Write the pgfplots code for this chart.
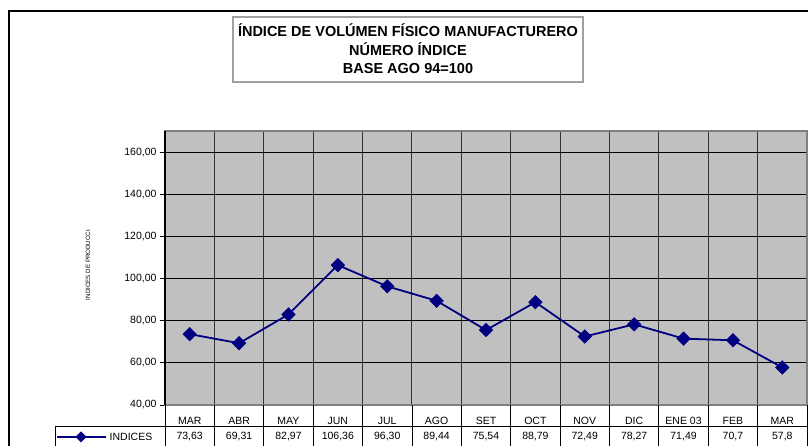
\documentclass[border=0pt]{standalone}
\usepackage{pgfplots}
\pgfplotsset{compat=1.18}
\usepackage{fontspec}
\setmainfont{Liberation Sans}
\definecolor{navyc}{RGB}{0,0,128}
\definecolor{plotbg}{RGB}{192,192,192}
\definecolor{frgray}{RGB}{128,128,128}
\definecolor{boxgray}{RGB}{160,160,160}
\begin{document}
\begin{tikzpicture}[x=1pt,y=1pt]
\useasboundingbox (0,0) rectangle (808,446);
\begin{scope}
\clip (0,0) rectangle (808,446);
% outer frame
\draw[black, line width=1.3pt] (9,0) -- (9,435) -- (820,435);
% title box
\draw[boxgray, line width=2pt, fill=white] (233,429) rectangle (583,364);
\node[font=\fontsize{14.5}{16}\selectfont\bfseries] at (408,416) {ÍNDICE DE VOLÚMEN FÍSICO MANUFACTURERO};
\node[font=\fontsize{14.5}{16}\selectfont\bfseries] at (408,396.5) {NÚMERO ÍNDICE};
\node[font=\fontsize{14.5}{16}\selectfont\bfseries] at (408,377.5) {BASE AGO 94=100};
% y label
\node[rotate=90, font=\fontsize{6.2}{7}\selectfont] at (88,181) {INDICES DE PRODUCCI};
\begin{axis}[
  at={(165pt,41pt)}, anchor=south west,
  scale only axis, width=642pt, height=274pt,
  xmin=-0.5, xmax=12.5, ymin=40, ymax=170,
  axis background/.style={fill=plotbg},
  axis line style={draw=frgray, line width=1.5pt},
  xtick={0,...,12},
  xticklabels={MAR,ABR,MAY,JUN,JUL,AGO,SET,OCT,NOV,DIC,ENE 03,FEB,MAR},
  xticklabel style={anchor=center, yshift=-10.5pt, font=\fontsize{10.5}{12}\selectfont},
  xtick style={draw=none},
  minor xtick={-0.5,0.5,...,12.5},
  minor tick length=0pt,
  xminorgrids=true,
  minor grid style={draw=black!80, line width=1pt},
  ytick={40,60,...,160},
  ymajorgrids=true,
  major grid style={draw=black, line width=1pt},
  ytick pos=left,
  tick align=outside,
  major tick length=5pt,
  ytick style={draw=black, line width=0.8pt},
  yticklabel style={font=\fontsize{10.5}{12}\selectfont},
  /pgf/number format/.cd, fixed, fixed zerofill, precision=2, use comma, assume math mode=true,
  /pgfplots/.cd,
  clip=false,
]
\addplot[navyc, line width=1.8pt, mark=square*, mark size=4.8pt, mark options={rotate=45, fill=navyc, draw=navyc, line width=0.5pt}]
coordinates {(0,73.63) (1,69.31) (2,82.97) (3,106.36) (4,96.30) (5,89.44) (6,75.54) (7,88.79) (8,72.49) (9,78.27) (10,71.49) (11,70.7) (12,57.8)};
\draw[black, line width=1.5pt] (rel axis cs:0,0) -- (rel axis cs:0,1);
\end{axis}
% data table
\draw[black, line width=0.8pt] (55,20) -- (810,20);
\draw[black, line width=0.8pt] (55,20) -- (55,0);
\foreach \k in {0,...,13} {\draw[black, line width=0.8pt] ({165+642*\k/13},41) -- ({165+642*\k/13},0);}
\draw[navyc, line width=1.5pt] (57,9) -- (106,9);
\fill[navyc] (81,9) +(0,5.5) -- +(5.5,0) -- +(0,-5.5) -- +(-5.5,0) -- cycle;
\node[font=\fontsize{10.5}{12}\selectfont] at (131,9) {INDICES};
\foreach \i/\v in {0/{73,63},1/{69,31},2/{82,97},3/{106,36},4/{96,30},5/{89,44},6/{75,54},7/{88,79},8/{72,49},9/{78,27},10/{71,49},11/{70,7},12/{57,8}}
  {\node[font=\fontsize{10.5}{12}\selectfont] at ({165+642*(\i+0.5)/13},9) {\v};}
\end{scope}
\end{tikzpicture}
\end{document}
